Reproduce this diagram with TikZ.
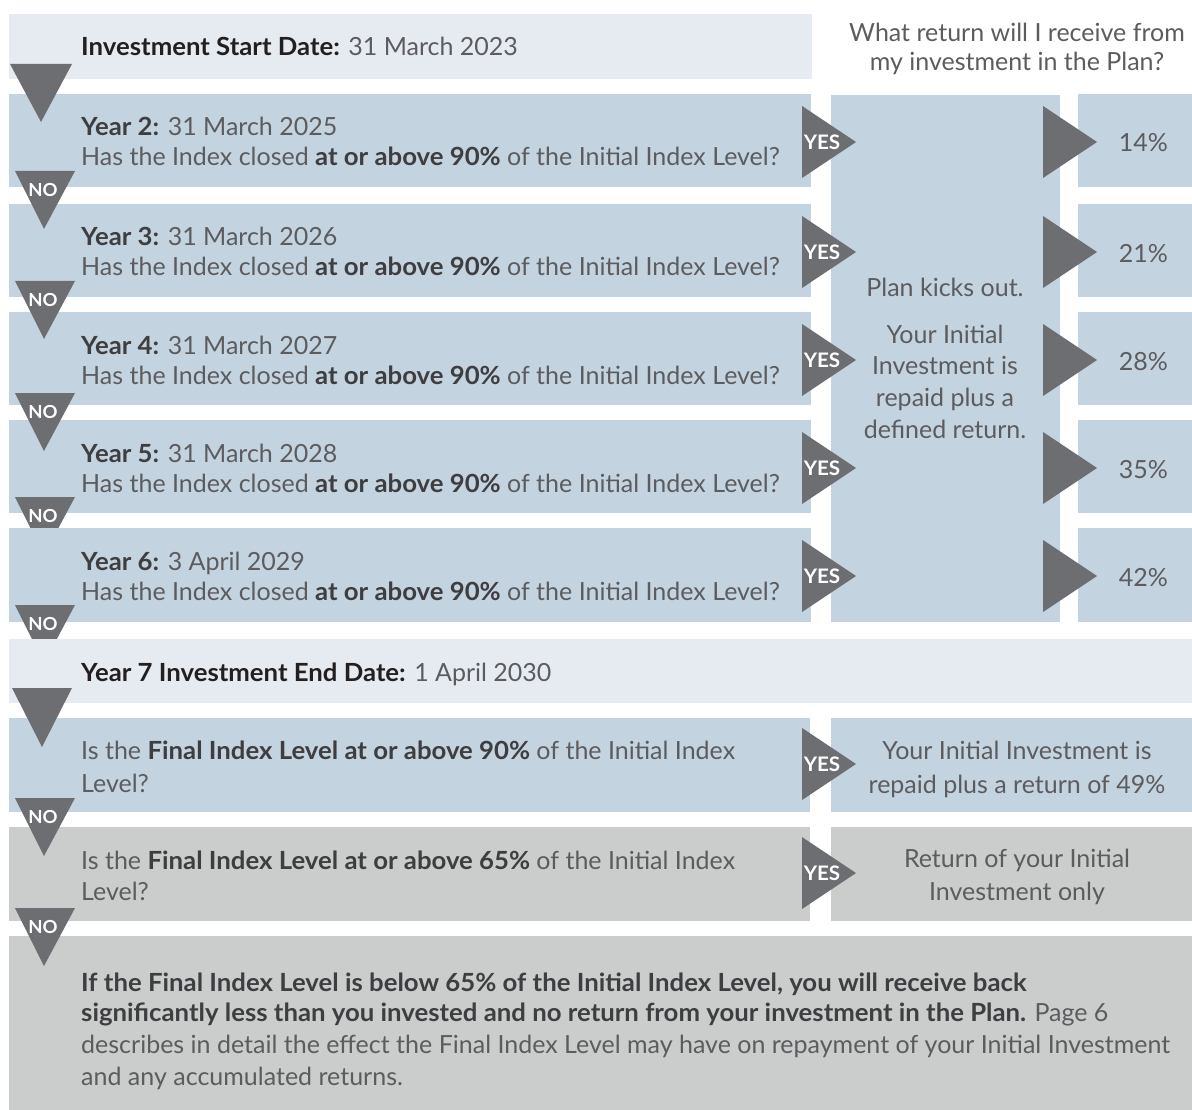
\documentclass[tikz,border=0pt]{standalone}
\usepackage{fontspec}
\setmainfont{Lato}[BoldFeatures={FakeStretch=1.03}]
\definecolor{startbg}{RGB}{230,235,242}
\definecolor{rowbg}{RGB}{195,211,224}
\definecolor{greybg}{RGB}{203,204,204}
\definecolor{arrowgrey}{RGB}{109,110,114}
\definecolor{txt}{RGB}{92,92,95}
\definecolor{txtbold}{RGB}{62,62,65}
\definecolor{txtdark}{RGB}{35,31,32}

\newcommand{\hl}[1]{\textcolor{txtbold}{\bfseries #1}}
% down arrow with NO, #2 = top edge
\newcommand{\noarrow}[2]{%
  \fill[arrowgrey] (15,#2) -- (75,#2) -- (44,#2+58) -- cycle;
  \node[nolabel] (#1) at (43,#2+19) {NO};}
% right arrow with YES, #2 = middle
\newcommand{\yesarrow}[2]{%
  \fill[arrowgrey] (802,#2-36) -- (856,#2) -- (802,#2+36) -- cycle;
  \node[yeslabel] (#1) at (822,#2) {YES};}
\newcommand{\pctarrow}[1]{%
  \fill[arrowgrey] (1043,#1-36) -- (1097,#1) -- (1043,#1+36) -- cycle;}

\begin{document}
\begin{tikzpicture}[x=1pt,y=-1pt,
    body/.style={inner sep=0pt,anchor=base west,text=txt,font=\fontsize{25}{30}\selectfont},
    mid/.style={inner sep=0pt,anchor=base,text=txt,font=\fontsize{25}{30}\selectfont},
    pct/.style={inner sep=0pt,anchor=base east,text=txt,font=\fontsize{25}{30}\selectfont},
    nolabel/.style={inner sep=0pt,text=white,font=\fontsize{18}{18}\selectfont\bfseries},
    yeslabel/.style={inner sep=0pt,text=white,font=\fontsize{20}{20}\selectfont\bfseries}]
  \useasboundingbox (0,0) rectangle (1192,1110);

  % start date and question
  \fill[startbg] (9,14) rectangle (812,79);
  \node[body] (start) at (81,56) {\textcolor{txtdark}{\bfseries Investment Start Date:} 31 March 2023};
  \node[mid] (ask1) at (1017,42) {What return will I receive from};
  \node[mid] (ask2) at (1017,71) {my investment in the Plan?};

  % kick out column
  \fill[rowbg] (831,95) rectangle (1060,622);
  \node[mid] (kick) at (945,297) {Plan kicks out.};
  \foreach \ln [count=\i] in {Your Initial,Investment is,repaid plus a,defined return.}
    \node[mid] (repaid\i) at (945,343+31.7*\i-31.7) {\ln};

  % years 2 to 5
  \foreach \yr/\day/\rt/\pc in {2/31 March 2025/94/14,3/31 March 2026/204/21,4/31 March 2027/312/28,5/31 March 2028/420/35}{
    \fill[rowbg] (9,\rt) rectangle (811,\rt+93);
    \fill[rowbg] (1078,\rt) rectangle (1192,\rt+93);
    \node[body] (year\yr) at (81,\rt+42) {\hl{Year \yr:} \day};
    \node[body] (test\yr) at (81,\rt+72) {Has the Index closed \hl{at or above 90\%} of the Initial Index Level?};
    \node[pct] (ret\yr) at (1168,\rt+58) {\pc\%};
    \yesarrow{yes\yr}{\rt+48}
    \pctarrow{\rt+48}
  }
  \fill[arrowgrey] (10,64) -- (72,64) -- (41,122) -- cycle;
  \foreach \n/\t in {2/171,3/281,4/393,5/497}{
    \noarrow{no\n}{\t}
  }

  % year 6
  \fill[rowbg] (9,528) rectangle (811,622);
  \fill[rowbg] (1078,528) rectangle (1192,622);
  \node[body] (year6) at (81,570) {\hl{Year 6:} 3 April 2029};
  \node[body] (test6) at (81,600) {Has the Index closed \hl{at or above 90\%} of the Initial Index Level?};
  \node[pct] (ret6) at (1168,586) {42\%};
  \yesarrow{yes6}{576}
  \pctarrow{576}
  \noarrow{no6}{605}

  % end date
  \fill[startbg] (9,639) rectangle (1192,703);
  \node[body] (end) at (81,681) {\textcolor{txtdark}{\bfseries Year 7 Investment End Date:} 1 April 2030};

  % final index level
  \fill[rowbg] (9,718) rectangle (810,812);
  \fill[rowbg] (831,718) rectangle (1192,812);
  \fill[arrowgrey] (12,688) -- (72,688) -- (42,747) -- cycle;
  \node[body] (final90) at (81,759) {Is the \hl{Final Index Level at or above 90\%} of the Initial Index};
  \node[body] (final90b) at (81,792) {Level?};
  \node[mid] (ret90) at (1017,759) {Your Initial Investment is};
  \node[mid] (ret90b) at (1017,793) {repaid plus a return of 49\%};
  \yesarrow{yes90}{764}

  \fill[greybg] (9,827) rectangle (810,921);
  \fill[greybg] (831,827) rectangle (1192,921);
  \node[body] (final65) at (81,869) {Is the \hl{Final Index Level at or above 65\%} of the Initial Index};
  \node[body] (final65b) at (81,900) {Level?};
  \node[mid] (ret65) at (1017,867) {Return of your Initial};
  \node[mid] (ret65b) at (1017,900) {Investment only};
  \yesarrow{yes65}{873}
  \noarrow{no90}{798}

  % below 65%
  \fill[greybg] (9,936) rectangle (1192,1110);
  \noarrow{no65}{908}
  \node[body] (warn1) at (81,991) {\hl{If the Final Index Level is below 65\% of the Initial Index Level, you will receive back}};
  \node[body] (warn2) at (81,1021) {\hl{significantly less than you invested and no return from your investment in the Plan.} Page 6};
  \node[body] (warn3) at (81,1053) {describes in detail the effect the Final Index Level may have on repayment of your Initial Investment};
  \node[body] (warn4) at (81,1085) {and any accumulated returns.};
\end{tikzpicture}
\end{document}
